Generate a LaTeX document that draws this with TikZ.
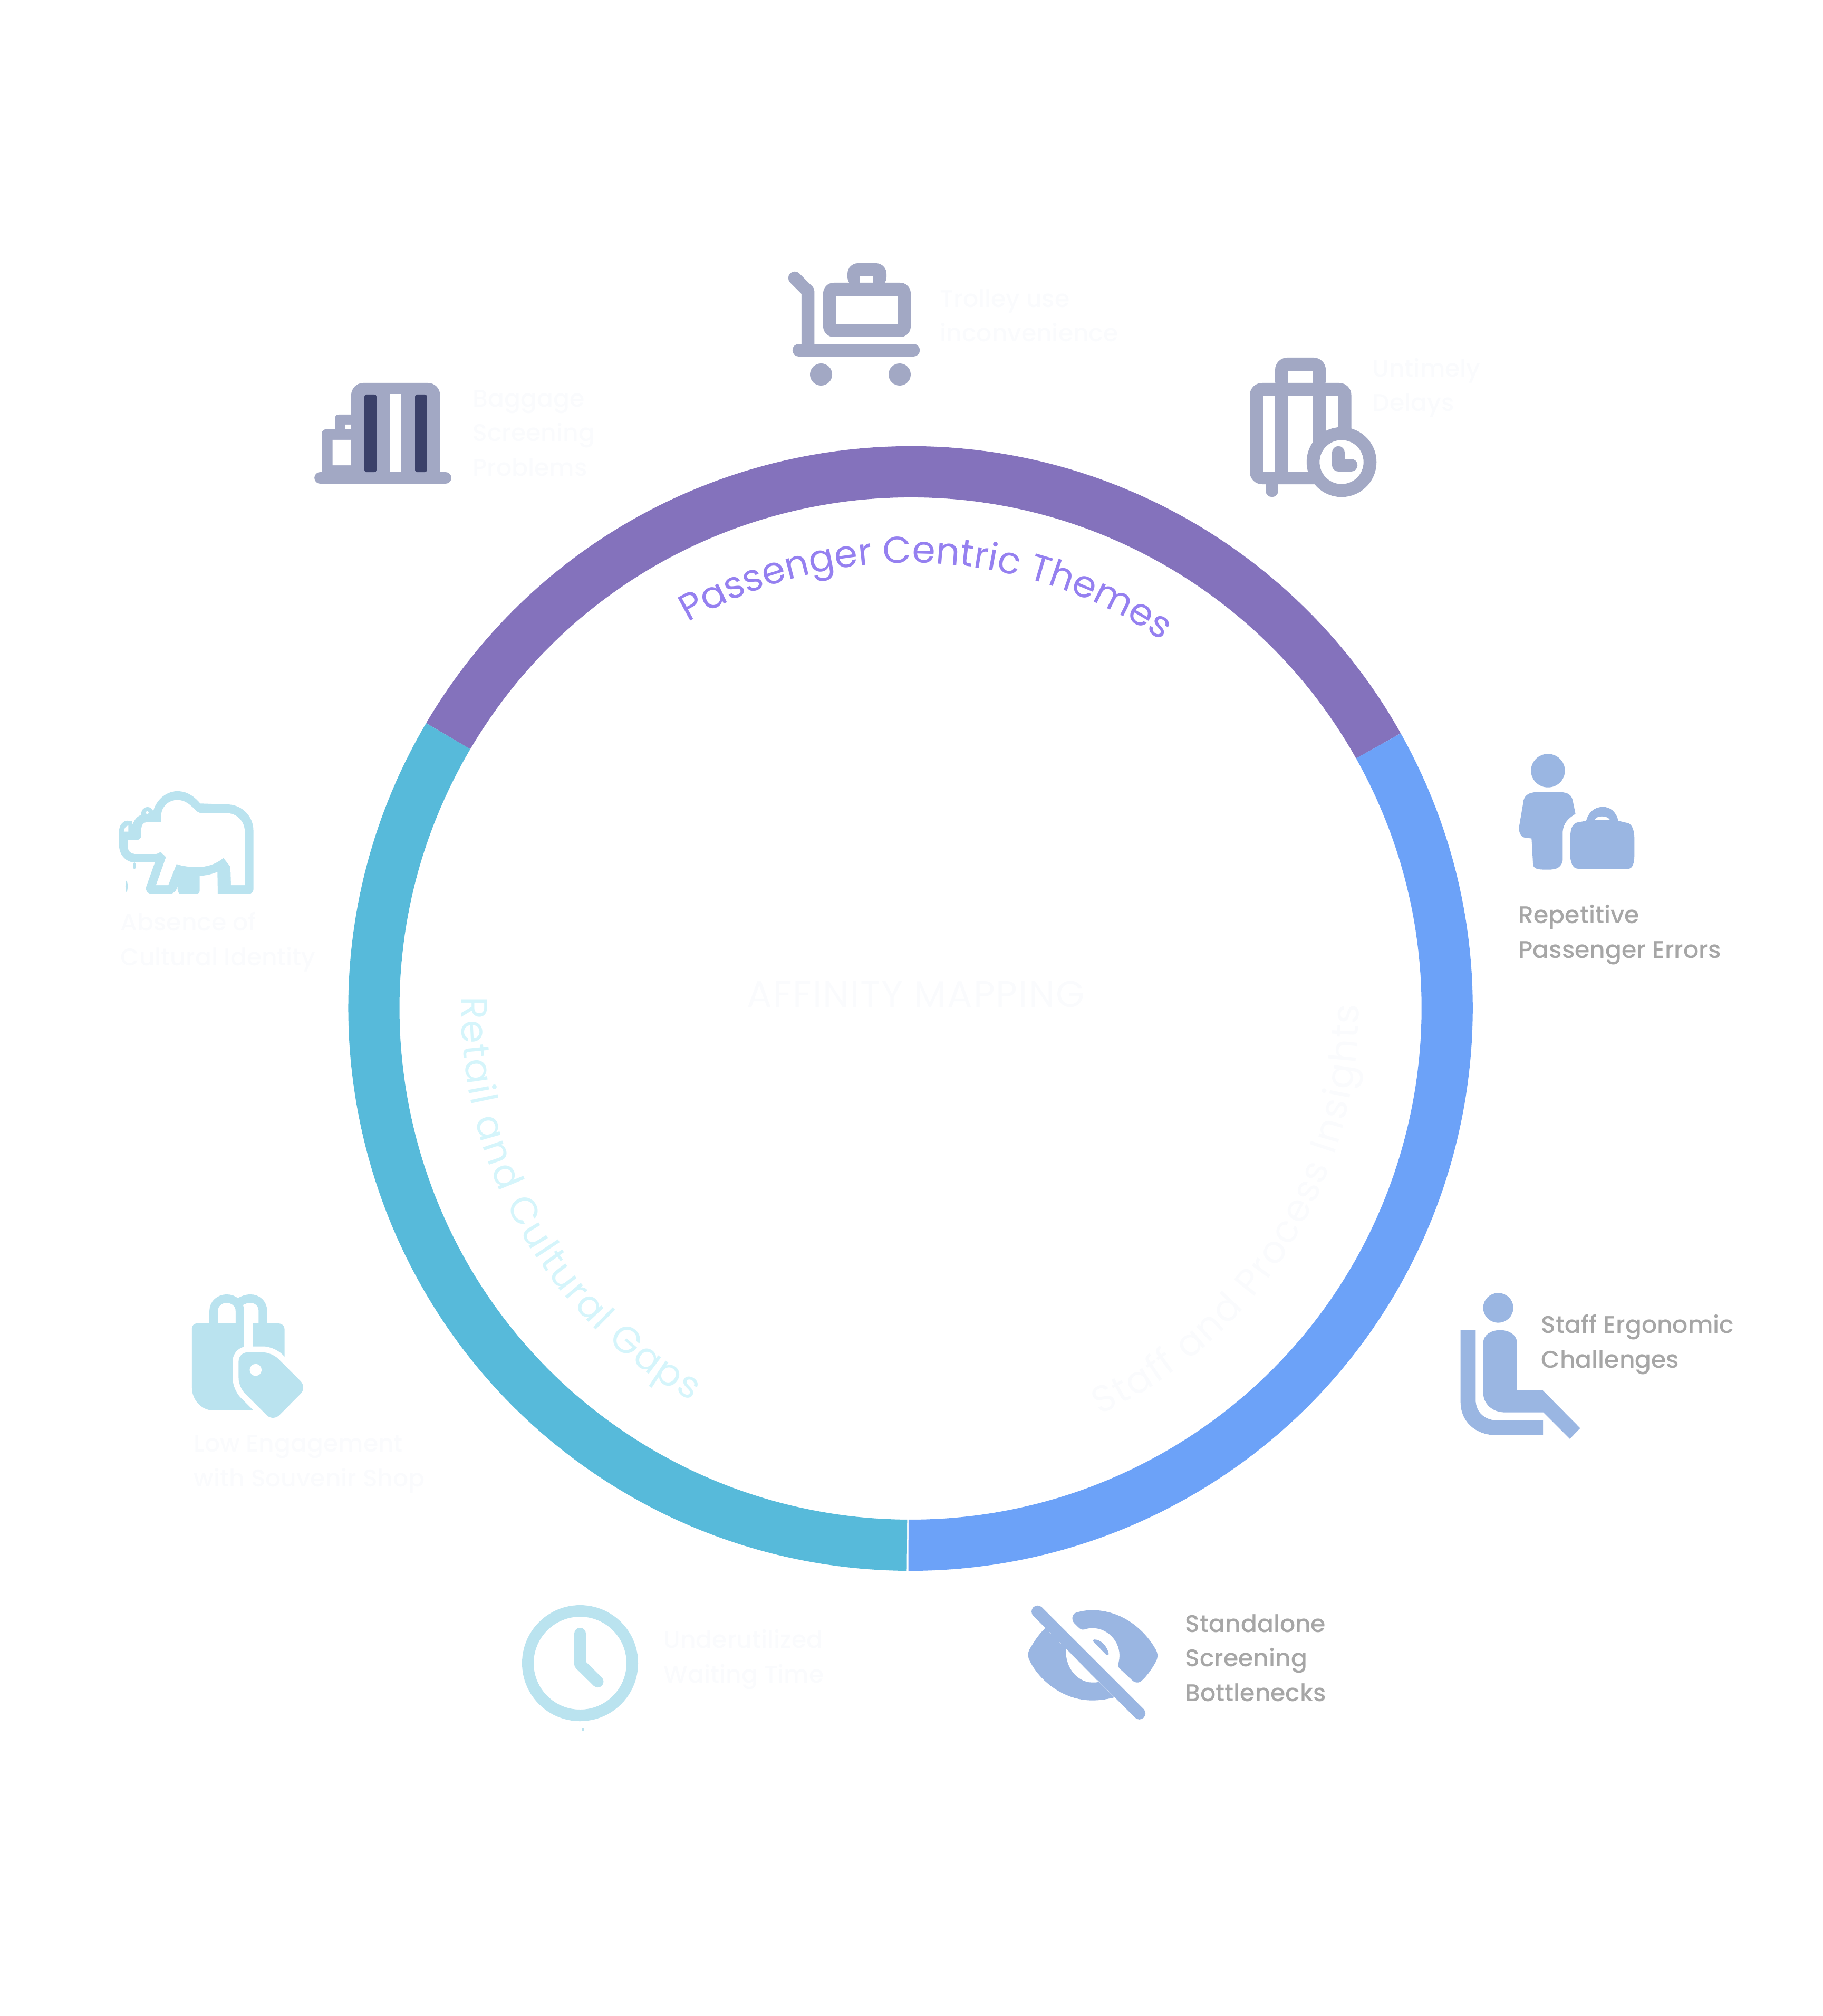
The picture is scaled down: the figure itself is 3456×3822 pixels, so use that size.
\documentclass[tikz,border=0pt]{standalone}
\usepackage{fontspec}
\usetikzlibrary{decorations.text}
\setmainfont{Poppins}
\newfontfamily\labelfont[UprightFont=* Medium]{Poppins}
\definecolor{ringpurple}{HTML}{8472BC}
\definecolor{ringblue}{HTML}{6CA2F8}
\definecolor{ringteal}{HTML}{57BADA}
\definecolor{themepurple}{HTML}{9580F0}
\definecolor{themecyan}{HTML}{D5F5FB}
\definecolor{ghostwhite}{HTML}{FAFBFD}
\definecolor{labelgray}{HTML}{A6A6A6}
\definecolor{iconslate}{HTML}{A2A8C4}
\definecolor{iconnavy}{HTML}{3A4069}
\definecolor{iconblue}{HTML}{9AB6E2}
\definecolor{iconcyan}{HTML}{BAE3EF}
\tikzset{
    factor/.style={anchor=base west, align=left, inner sep=0pt, text=labelgray,
        font=\labelfont\fontsize{13}{18.5}\selectfont},
    ghost/.style={factor, text=ghostwhite},
    ring/.style={line width=.97cm},
    strokeicon/.style={iconslate, line width=.245cm, line join=round, line cap=round},
}
\newcommand{\themefont}{\fontsize{20.2}{24}\selectfont}
\begin{document}
\begin{tikzpicture}[x=.01cm, y=-.01cm]
    \useasboundingbox (0,0) rectangle (3456,3822);
    \coordinate (ringc) at (1726.6,1912);

    % Ring segments
    \draw[ring, ringpurple] (ringc) ++(-149.5:1017.5) arc (-149.5:-29.3:1017.5);
    \draw[ring, ringblue] (ringc) ++(-29.3:1017.5) arc (-29.3:90.22:1017.5);
    \draw[ring, ringteal] (ringc) ++(-149.5:1017.5) arc (-149.5:-269.62:1017.5);

    % Centre title
    \node[font=\fontsize{20}{24}\selectfont\addfontfeature{LetterSpace=3}, text=ghostwhite] (title) at (1737,1885) {AFFINITY MAPPING};

    % Curved theme names
    \path[decorate, decoration={text along path, text align=fit to path,
        text={|\themefont\color{themepurple}|Passenger Centric Themes}}]
        (ringc) ++(-120:845) arc (-120:-56:845);
    \path[decorate, decoration={text along path, text align=fit to path,
        text={|\themefont\color{themecyan}|Retail and Cultural Gaps}}]
        (ringc) ++(-178.5:852) arc (-178.5:-240.8:852);
    \path[decorate, decoration={text along path, text align=fit to path,
        text={|\themefont\color{ghostwhite}|Staff and Process Insights}}]
        (ringc) ++(65:850) arc (65:-0.5:850);

    % Trolley
    \draw[strokeicon] (1507,527) -- (1532,552) -- (1532,664);
    \draw[strokeicon] (1515,664) -- (1732,664);
    \fill[iconslate] (1557,710) circle (21) (1706,710) circle (21);
    \fill[iconslate, rounded corners=.2cm] (1607,545) -- (1607,499) -- (1681,499) -- (1681,545) -- cycle;
    \fill[white] (1631,524) rectangle (1656,536);
    \fill[iconslate, rounded corners=.2cm] (1561,536) rectangle (1727,639);
    \fill[white] (1586,561) rectangle (1702,615);
    \node[ghost] (trolley) at (1782,648) {Trolley use\\inconvenience};

    % Untimely luggage
    \fill[iconslate, rounded corners=.23cm] (2418,745) -- (2418,678) -- (2514,678) -- (2514,745) -- cycle;
    \fill[white] (2442,703) rectangle (2490,726);
    \fill[iconslate, rounded corners=.23cm] (2370,726) rectangle (2562.5,918);
    \fill[white] (2395,750) rectangle (2538,894);
    \fill[iconslate] (2418,740) rectangle (2442,906) (2490,740) rectangle (2514,906);
    \draw[strokeicon] (2412,918) -- (2412,930);
    \draw[strokeicon, fill=white] (2544,876) circle (54);
    \draw[strokeicon] (2538,858) -- (2538,882) -- (2562,882);
    \node[ghost] (delays) at (2602,780) {Untimely\\Delays};

    % Baggage scanner
    \draw[iconslate, line width=.217cm, line cap=round] (607,906) -- (845,906);
    \fill[iconslate, rounded corners=.07cm] (635,900) -- (635,786) -- (680,786) -- (680,900) -- cycle;
    \fill[iconslate, rounded corners=.07cm] (610.6,900) -- (610.6,814) -- (680,814) -- (680,900) -- cycle;
    \fill[white] (654,805) rectangle (666,814) (630.5,834) rectangle (666,882);
    \fill[iconslate, rounded corners=.23cm] (666,910) -- (666,726) -- (834.5,726) -- (834.5,910) -- cycle;
    \fill[iconslate] (666,890) rectangle (834.5,910);
    \fill[white] (739.6,747) rectangle (761,895);
    \fill[iconnavy, rounded corners=.04cm] (691,748) rectangle (714,895) (787,748) rectangle (809.6,895);
    \node[ghost] (scanner) at (896,902) {Baggage\\Screening\\Problems};

    % Elephant
    \begin{scope}[shift={(200,1480)}, x=.00333cm, y=-.00333cm]
        \fill[iconcyan] (272,175) .. controls (290,105) and (350,60) .. (410,60) .. controls (470,60) and (510,95) .. (540,130)
            -- (690,135) .. controls (780,135) and (843,205) .. (843,285) -- (843,620) .. controls (843,635) and (830,645) .. (815,645)
            -- (640,645) -- (638,520) .. controls (600,535) and (570,540) .. (537,543) -- (537,625) .. controls (537,638) and (528,645) .. (515,645)
            -- (430,645) .. controls (418,645) and (410,638) .. (410,600) .. controls (405,630) and (385,645) .. (365,645)
            -- (265,645) .. controls (240,645) and (225,625) .. (232,605) -- (282,465) -- (165,465) .. controls (115,465) and (78,420) .. (78,370)
            -- (78,285) .. controls (78,255) and (100,228) .. (125,228) -- (150,232) -- (155,250) .. controls (165,220) and (185,200) .. (205,195)
            .. controls (200,170) and (220,150) .. (238,150) .. controls (255,150) and (268,160) .. (272,175) -- cycle;
        \fill[white] (318,235) -- (318,190) .. controls (325,140) and (365,110) .. (410,110) .. controls (450,110) and (480,135) .. (500,155)
            .. controls (515,172) and (530,185) .. (550,185) -- (690,185) .. controls (750,185) and (793,235) .. (793,285)
            -- (793,595) -- (715,595) -- (712,490) -- (672,440) .. controls (630,475) and (580,492) .. (525,492) .. controls (480,492) and (440,488) .. (405,475)
            -- (358,595) -- (288,595) -- (345,435) -- (313,405) .. controls (305,412) and (300,417) .. (290,417)
            -- (165,417) .. controls (145,417) and (128,400) .. (128,380) -- (128,340) -- (180,338) .. controls (195,338) and (205,325) .. (205,310)
            -- (205,270) .. controls (205,250) and (220,237) .. (235,237) -- cycle;
        \fill[white] (238,182) circle (8) (105,290) -- (130,290) -- (130,255) .. controls (115,258) and (105,275) .. (105,290) -- cycle;
        \fill[iconcyan] (165,485) ellipse (8 and 20) (120,602) ellipse (6 and 32);
    \end{scope}
    \node[ghost] (identity) at (228,1830) {Absence of\\Cultural Identity};

    % Shopping bag and tag
    \begin{scope}[shift={(340,2440)}, x=.00333cm, y=-.00333cm]
        \fill[iconcyan] (100,207) -- (565,207) .. controls (585,207) and (600,222) .. (600,240) -- (600,395) -- (430,703) -- (195,703)
            .. controls (125,703) and (72,640) .. (72,575) -- (72,235) .. controls (72,220) and (85,207) .. (100,207) -- cycle;
        \draw[iconcyan, line width=.16cm] (196,207) -- (196,135) .. controls (196,95) and (230,66) .. (270,66) .. controls (310,66) and (345,95) .. (345,135) -- (345,207);
        \draw[iconcyan, line width=.16cm] (345,85) .. controls (365,72) and (385,66) .. (405,66) .. controls (445,66) and (476,95) .. (476,135) -- (476,207);
        \fill[white] (370,115) -- (420,115) -- (420,345) -- (370,345) -- cycle;
        \fill[white, draw=white, line width=.226cm, rounded corners=.17cm] (338,372) -- (527,372) -- (727,572) -- (534,766) -- (338,570) -- cycle;
        \fill[iconcyan, rounded corners=.17cm] (338,372) -- (527,372) -- (727,572) -- (534,766) -- (338,570) -- cycle;
        \fill[white] (435,472) circle (34);
    \end{scope}
    \node[ghost] (souvenir) at (367,2818) {Low Engagement\\with Souvenir Shop};

    % Clock
    \draw[iconcyan, line width=.22cm] (1100,3153) circle (99);
    \draw[iconcyan, line width=.22cm, line cap=round, line join=round] (1100,3097) -- (1100,3155) -- (1133.5,3188);
    \fill[iconcyan] (1104,3276) rectangle (1108,3282);
    \node[ghost] (waiting) at (1258,3190) {Underutilized\\Waiting Time};

    % Passenger with bag
    \begin{scope}[shift={(2750,1380)}, x=.003571cm, y=-.0088cm]
        \fill[iconblue] (519,92) ellipse (90 and 36);
        \fill[iconblue] (390,155) .. controls (400,140) and (440,138) .. (470,138) -- (570,138) .. controls (610,138) and (640,140) .. (650,155) -- (665,185)
            .. controls (625,195) and (600,205) .. (597,225) -- (597,285) .. controls (590,305) and (540,305) .. (520,305) .. controls (480,305) and (445,305) .. (440,295)
            -- (432,238) -- (395,236) .. controls (375,235) and (365,225) .. (365,215) -- cycle;
        \fill[iconblue] (637,240) .. controls (637,215) and (650,205) .. (680,203) -- (722,200) .. controls (735,180) and (770,170) .. (810,170) .. controls (850,170) and (880,180) .. (893,200)
            -- (945,205) .. controls (965,208) and (978,220) .. (978,240) -- (978,270) .. controls (978,295) and (965,303) .. (945,303)
            -- (680,303) .. controls (650,303) and (637,290) .. (637,270) -- cycle;
        \fill[white] (768,198) .. controls (775,188) and (835,188) .. (848,198) -- cycle;
    \end{scope}
    \node[factor] (errors) at (2879,1816) {Repetitive\\Passenger Errors};

    % Seated staff
    \begin{scope}[shift={(2750,1380)}, x=.003571cm, y=-.0088cm]
        \fill[iconblue] (255,1248) ellipse (80 and 32);
        \fill[iconblue] (175,1325) .. controls (175,1305) and (220,1296) .. (265,1296) .. controls (310,1296) and (355,1305) .. (355,1325)
            -- (355,1425) -- (490,1425) -- (690,1507) -- (635,1530) -- (495,1473) -- (290,1473) .. controls (225,1473) and (175,1455) .. (175,1430) -- cycle;
        \fill[iconblue] (55,1296) -- (135,1296) -- (135,1445) .. controls (135,1475) and (190,1490) .. (245,1490) -- (493,1490) -- (493,1522)
            -- (245,1522) .. controls (140,1522) and (55,1495) .. (55,1450) -- cycle;
    \end{scope}
    \node[factor] (ergonomic) at (2922,2593) {Staff Ergonomic\\Challenges};

    % Crossed eye
    \begin{scope}[shift={(1900,2980)}, x=.00333cm, y=-.00333cm]
        \fill[iconblue] (247,320) .. controls (205,360) and (175,410) .. (155,445) .. controls (145,465) and (148,490) .. (160,510)
            .. controls (215,620) and (350,732) .. (515,732) .. controls (560,732) and (600,725) .. (640,715) -- cycle;
        \fill[white] (367,440) .. controls (355,540) and (430,630) .. (515,630) .. controls (530,630) and (540,630) .. (550,627) -- cycle;
        \fill[iconblue] (415,235) .. controls (450,222) and (485,218) .. (515,218) .. controls (680,218) and (810,325) .. (875,440)
            .. controls (890,465) and (890,490) .. (875,515) .. controls (850,560) and (820,600) .. (790,625) .. controls (775,635) and (755,630) .. (745,620)
            -- (670,550) .. controls (660,540) and (662,530) .. (665,515) .. controls (690,410) and (610,320) .. (515,320)
            .. controls (495,320) and (480,325) .. (470,328) .. controls (455,332) and (445,325) .. (435,315) -- (410,290) .. controls (395,270) and (400,245) .. (415,235) -- cycle;
        \fill[iconblue] (525,385) .. controls (565,385) and (600,425) .. (608,465) .. controls (610,475) and (600,478) .. (592,470) -- (525,402) .. controls (515,392) and (518,385) .. (525,385) -- cycle;
        \draw[iconblue, line width=.23cm, line cap=round] (203,226) -- (783,806);
    \end{scope}
    \node[factor] (bottlenecks) at (2247,3225) {Standalone\\Screening\\Bottlenecks};
\end{tikzpicture}
\end{document}
